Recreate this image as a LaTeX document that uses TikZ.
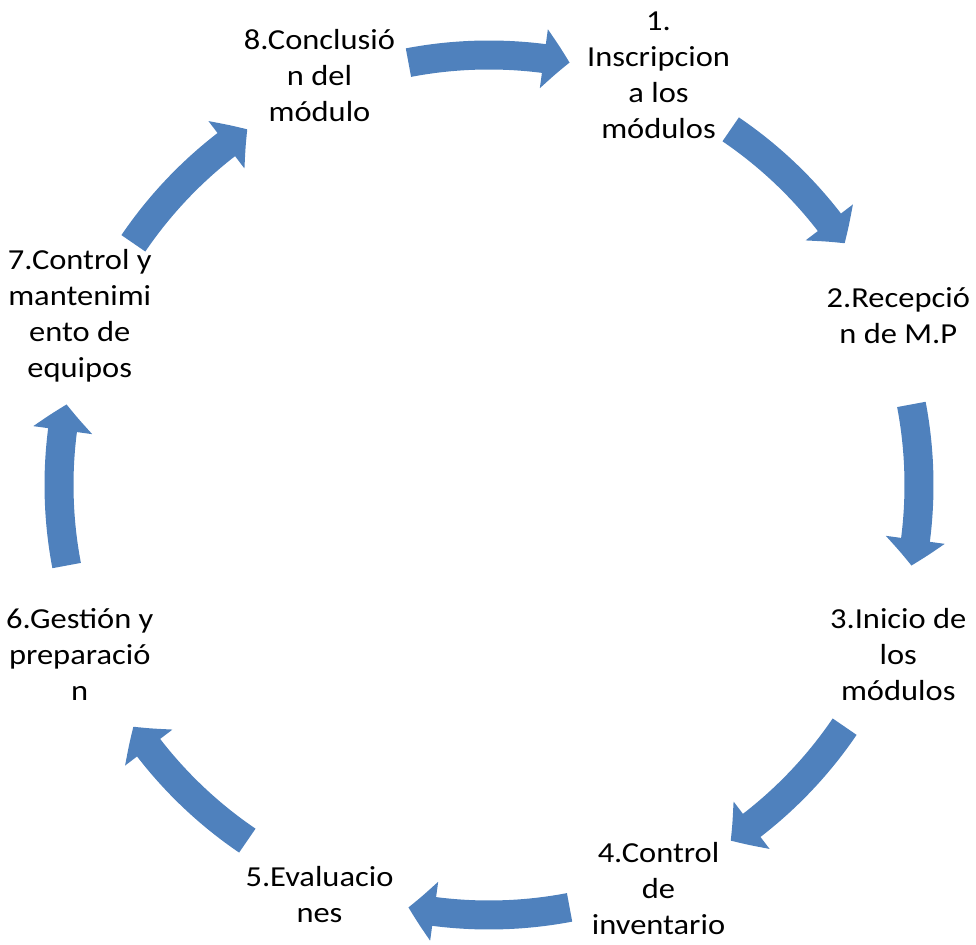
\documentclass[tikz,border=0pt]{standalone}
\usepackage{fontspec}
\setmainfont{Carlito}[FakeStretch=1.12]
\usetikzlibrary{arrows.meta,bending,calc}

\definecolor{cycblue}{HTML}{4F81BD}

\tikzset{
step node/.style={
  align=center,
  inner sep=0pt,
  text=black,
  font=\fontsize{29pt}{36pt}\selectfont,
},
cycarrow/.style={
  draw=cycblue,
  line width=29pt,
  -{Triangle[width=58pt,length=26pt,bend]},
},
}

\begin{document}
\begin{tikzpicture}[x=1pt,y=1pt]
\useasboundingbox (0,0) rectangle (976,944);
\coordinate (c) at (489,459);

                  % steps
\node[step node] (s1) at ($(c)+(67.5:443pt)$)  {1.\\Inscripcion\\a los\\módulos};
\node[step node] (s2) at ($(c)+(22.5:443pt)$)  {2.Recepció\\n de M.P};
\node[step node] (s3) at ($(c)+(-22.5:443pt)$) {3.Inicio de\\los\\módulos};
\node[step node, yshift=6pt] (s4) at ($(c)+(-67.5:443pt)$) {4.Control\\de\\inventario};
\node[step node] (s5) at ($(c)+(-112.5:443pt)$) {5.Evaluacio\\nes};
\node[step node] (s6) at ($(c)+(-157.5:443pt)$) {6.Gestión y\\preparació\\n};
\node[step node] (s7) at ($(c)+(157.5:443pt)$) {7.Control y\\mantenimi\\ento de\\equipos};
\node[step node] (s8) at ($(c)+(112.5:443pt)$) {8.Conclusió\\n del\\módulo};

                  % arrows between the steps
\foreach \m [count=\i] in {90,45,0,-45,-90,-135,180,135} {
  \coordinate (a\i) at ($(c)+(\m+10.8:430pt)$);
  \draw[cycarrow] (a\i) arc[start angle=\m+10.8, delta angle=-21.6, radius=430pt];
}
\end{tikzpicture}
\end{document}
